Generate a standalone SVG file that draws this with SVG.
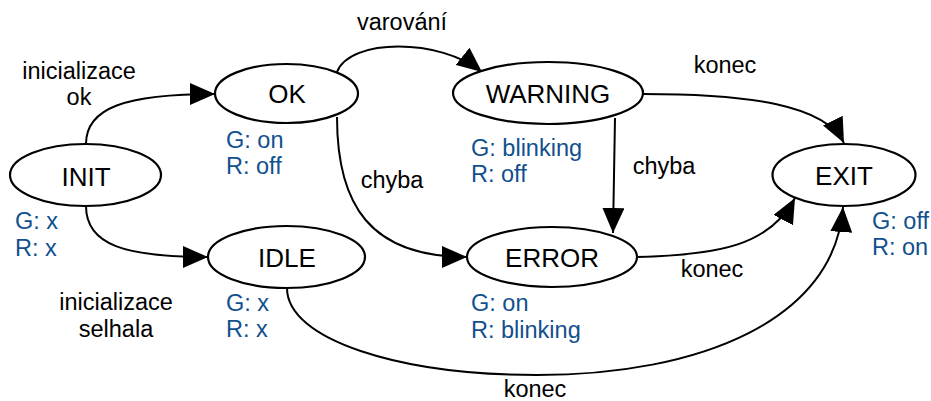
<svg xmlns="http://www.w3.org/2000/svg" width="931" height="401" viewBox="0 0 931 401">
<style>
.n{fill:#fff;stroke:#000;stroke-width:2.2}
.nl{font-family:"Liberation Sans",Arial,sans-serif;font-size:26px;fill:#000;text-anchor:middle}
.st{font-family:"Liberation Sans",Arial,sans-serif;font-size:23.5px;fill:#11508e}
.el{font-family:"Liberation Sans",Arial,sans-serif;font-size:23.5px;fill:#000;text-anchor:middle}
.c{fill:none;stroke:#000;stroke-width:2}
</style>
<defs>
<marker id="arr" viewBox="0 0 25 22" refX="25" refY="11" markerWidth="25" markerHeight="22" markerUnits="userSpaceOnUse" orient="auto">
<path d="M0,0 L25,11 L0,22 z" fill="#000"/>
</marker>
</defs>
<rect width="931" height="401" fill="#fff"/>
<g id="connectors">
<path class="c" marker-end="url(#arr)" d="M86,144 C86,108 125,94 215,94"/>
<path class="c" marker-end="url(#arr)" d="M86,206 C86,245 125,257 208,257"/>
<path class="c" marker-end="url(#arr)" d="M337,72 C350,38 440,38 482,72"/>
<path class="c" marker-end="url(#arr)" d="M337,117 C337,205 370,257 467,257"/>
<path class="c" marker-end="url(#arr)" d="M643,94 C750,94 825,105 844,143"/>
<path class="c" marker-end="url(#arr)" d="M615,118 L613,233"/>
<path class="c" marker-end="url(#arr)" d="M637,257 C720,255 770,245 795,198"/>
<path class="c" marker-end="url(#arr)" d="M287,288 C287,340 400,375 537,375 C700,375 835,320 843,207"/>
<text class="el" x="79" y="79">inicializace</text>
<text class="el" x="79" y="105">ok</text>
<text class="el" x="116" y="310">inicializace</text>
<text class="el" x="116" y="337">selhala</text>
<text class="el" x="402" y="30">varování</text>
<text class="el" x="392" y="188">chyba</text>
<text class="el" x="664" y="174">chyba</text>
<text class="el" x="725" y="73">konec</text>
<text class="el" x="712" y="277">konec</text>
<text class="el" x="535" y="397">konec</text>
</g>
<g id="INIT">
<ellipse class="n" cx="85.5" cy="175" rx="75.5" ry="31"/>
<text class="nl" x="86" y="186">INIT</text>
<text class="st" x="15" y="229">G: x</text>
<text class="st" x="15" y="256">R: x</text>
</g>
<g id="OK">
<ellipse class="n" cx="286.5" cy="93.5" rx="71.5" ry="29.5"/>
<text class="nl" x="287" y="103">OK</text>
<text class="st" x="226" y="148">G: on</text>
<text class="st" x="226" y="174">R: off</text>
</g>
<g id="WARNING">
<ellipse class="n" cx="548" cy="93" rx="95" ry="31"/>
<text class="nl" x="548" y="103">WARNING</text>
<text class="st" x="471" y="156">G: blinking</text>
<text class="st" x="471" y="182">R: off</text>
</g>
<g id="IDLE">
<ellipse class="n" cx="286.5" cy="257" rx="78.5" ry="31"/>
<text class="nl" x="287" y="267">IDLE</text>
<text class="st" x="226" y="311">G: x</text>
<text class="st" x="226" y="337">R: x</text>
</g>
<g id="ERROR">
<ellipse class="n" cx="552" cy="257" rx="85" ry="30"/>
<text class="nl" x="552" y="267">ERROR</text>
<text class="st" x="471" y="311">G: on</text>
<text class="st" x="471" y="338">R: blinking</text>
</g>
<g id="EXIT">
<ellipse class="n" cx="844" cy="175" rx="71.5" ry="31"/>
<text class="nl" x="844" y="185">EXIT</text>
<text class="st" x="872" y="229">G: off</text>
<text class="st" x="872" y="255">R: on</text>
</g>
</svg>
